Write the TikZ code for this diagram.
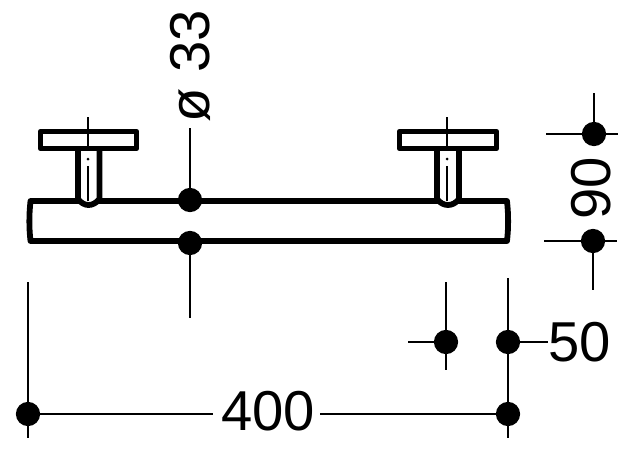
\documentclass[tikz,border=0pt]{standalone}
\usepackage{fontspec}
\setmainfont{Liberation Sans}
\usetikzlibrary{positioning}

\tikzset{
    part/.style={draw=black,line width=3.3pt,line join=round},
    axis/.style={draw=black,line width=1.5pt},
    thin axis/.style={draw=black,line width=0.9pt},
    dimdot/.style={fill=black,circle,inner sep=0pt,minimum size=0.485cm},
    dimtext/.style={inner sep=0pt,font=\fontsize{32pt}{32pt}\selectfont}
}

\begin{document}
\begin{tikzpicture}[x=0.02cm,y=-0.02cm]
    \useasboundingbox (0,0) rectangle (640,453);

    % bar
    \draw[part] (30.5,201) -- (507,201) .. controls (508.5,215) and (508.5,228) .. (507,241) -- (30.5,241) .. controls (29,228) and (29,215) .. (30.5,201) -- cycle;

    % left fixing
    \fill[white] (78,150) rectangle (99.5,203);
    \draw[part] (78,149) -- (78,199) .. controls (84,207) and (93,207) .. (99.5,199) -- (99.5,149);
    \draw[part] (40.5,131.5) rectangle (136.5,148.5);
    \draw[thin axis] (88,117) -- (88,150);
    \fill (88,159) circle (1.5);
    \draw[thin axis] (88,166) -- (88,201);

    % right fixing
    \fill[white] (437,150) rectangle (459,203);
    \draw[part] (437,149) -- (437,199) .. controls (443,207) and (453,207) .. (459,199) -- (459,149);
    \draw[part] (399.5,131.5) rectangle (496.5,148.5);
    \draw[thin axis] (447,117) -- (447,150);
    \fill (447,159) circle (1.5);
    \draw[thin axis] (447,166) -- (447,201);

    % dots
    \node[dimdot] (bartop) at (190,200) {};
    \node[dimdot] (barbot) at (190,243) {};
    \node[dimdot] (hightop) at (594,134) {};
    \node[dimdot] (highbot) at (593,241) {};
    \node[dimdot] (fixdot) at (446,342) {};
    \node[dimdot] (enddot) at (508,342) {};
    \node[dimdot] (lendotl) at (28,414) {};
    \node[dimdot] (lendotr) at (508,414) {};

    % free ends
    \coordinate (bartopend) at (190,128);
    \coordinate (barbotend) at (190,318);
    \coordinate (hightopa) at (594,93);
    \coordinate (hightopb) at (546,134);
    \coordinate (hightopc) at (618,134);
    \coordinate (highbota) at (593,290);
    \coordinate (highbotb) at (544,241);
    \coordinate (highbotc) at (617,241);
    \coordinate (fixa) at (446,282);
    \coordinate (fixb) at (446,370);
    \coordinate (fixc) at (408,342);
    \coordinate (enda) at (508,278);
    \coordinate (endb) at (548,342);
    \coordinate (lena) at (28,282);
    \coordinate (lenb) at (28,438);
    \coordinate (lenc) at (508,438);
    \coordinate (lengapl) at (213,414);
    \coordinate (lengapr) at (320,414);

    % labels
    \node[dimtext,rotate=90] (diam) at (190,66) {ø 33};
    \node[dimtext,rotate=90] (high) at (591,188) {90};
    \node[dimtext] (fifty) at (580,342) {50};
    \node[dimtext] (length) at (268,411) {400};

    % dimension lines
    \draw[axis] (bartop) -- (bartopend);
    \draw[axis] (barbot) -- (barbotend);
    \draw[axis] (hightopa) -- (hightop);
    \draw[axis] (hightopb) -- (hightopc);
    \draw[axis] (highbot) -- (highbota);
    \draw[axis] (highbotb) -- (highbotc);
    \draw[axis] (fixa) -- (fixb);
    \draw[axis] (fixc) -- (fixdot);
    \draw[axis] (enda) -- (lenc);
    \draw[axis] (enddot) -- (endb);
    \draw[axis] (lena) -- (lenb);
    \draw[axis] (lendotl) -- (lengapl);
    \draw[axis] (lengapr) -- (lendotr);
\end{tikzpicture}
\end{document}
